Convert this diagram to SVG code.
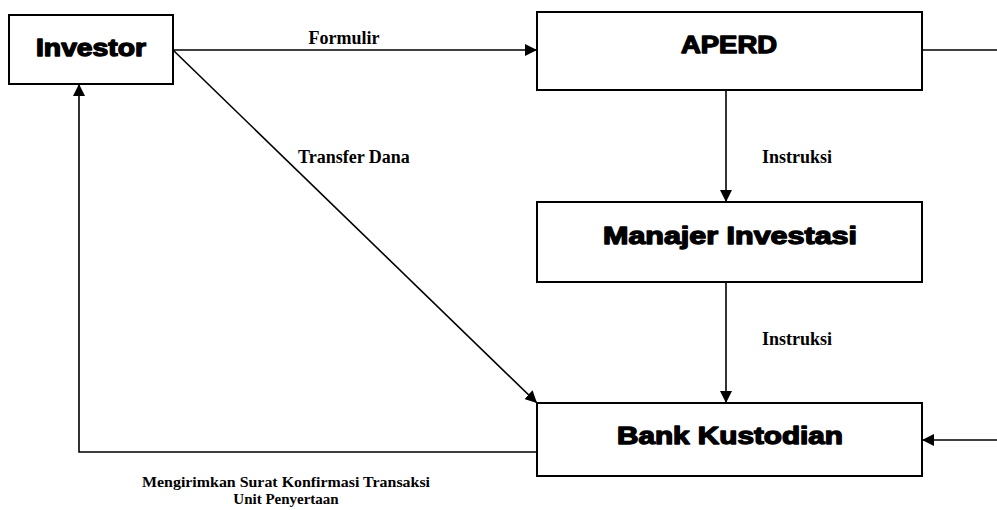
<svg xmlns="http://www.w3.org/2000/svg" width="997" height="510" viewBox="0 0 997 510">
<style>
.box{fill:#fff;stroke:#000;stroke-width:2}
.nl{font-family:"Liberation Sans",Arial,sans-serif;font-weight:bold;font-size:23px;fill:#000;stroke:#000;stroke-width:1.3;stroke-linejoin:round;text-anchor:middle}
.el{font-family:"Liberation Serif","Times New Roman",serif;font-weight:bold;font-size:18px;fill:#000}
.bl{font-family:"Liberation Serif","Times New Roman",serif;font-weight:bold;font-size:15px;fill:#000;text-anchor:middle}
.ln{fill:none;stroke:#000;stroke-width:1.6}
</style>
<defs>
<marker id="ah" viewBox="0 0 12 12" refX="12" refY="6" markerWidth="12" markerHeight="12" markerUnits="userSpaceOnUse" orient="auto">
<path d="M0,0 L12,6 L0,12 Z" fill="#000"/>
</marker>
</defs>
<g id="connectors">
<line class="ln" x1="173" y1="50" x2="537" y2="50" marker-end="url(#ah)"/>
<line class="ln" x1="922" y1="50" x2="997" y2="50"/>
<line class="ln" x1="173" y1="50" x2="537" y2="403" marker-end="url(#ah)"/>
<line class="ln" x1="726" y1="90" x2="726" y2="202" marker-end="url(#ah)"/>
<line class="ln" x1="726" y1="282" x2="726" y2="403" marker-end="url(#ah)"/>
<line class="ln" x1="997" y1="440" x2="922" y2="440" marker-end="url(#ah)"/>
<polyline class="ln" points="537,452 79,452 79,84" marker-end="url(#ah)"/>
<text class="el" x="344" y="44" text-anchor="middle">Formulir</text>
<text class="el" x="298" y="163">Transfer Dana</text>
<text class="el" x="762" y="163">Instruksi</text>
<text class="el" x="762" y="345">Instruksi</text>
<text class="bl" x="286" y="487" textLength="288" lengthAdjust="spacingAndGlyphs">Mengirimkan Surat Konfirmasi Transaksi</text>
<text class="bl" x="286" y="504">Unit Penyertaan</text>
</g>
<g id="investor">
<rect class="box" x="9" y="15" width="164" height="69"/>
<text class="nl" x="91" y="56" textLength="110" lengthAdjust="spacingAndGlyphs">Investor</text>
</g>
<g id="aperd">
<rect class="box" x="537" y="12" width="385" height="78"/>
<text class="nl" x="729" y="53" textLength="96" lengthAdjust="spacingAndGlyphs">APERD</text>
</g>
<g id="manajer">
<rect class="box" x="537" y="202" width="385" height="80"/>
<text class="nl" x="730" y="244" textLength="254" lengthAdjust="spacingAndGlyphs">Manajer Investasi</text>
</g>
<g id="bank">
<rect class="box" x="537" y="403" width="385" height="73"/>
<text class="nl" x="730" y="444" textLength="226" lengthAdjust="spacingAndGlyphs">Bank Kustodian</text>
</g>
</svg>
